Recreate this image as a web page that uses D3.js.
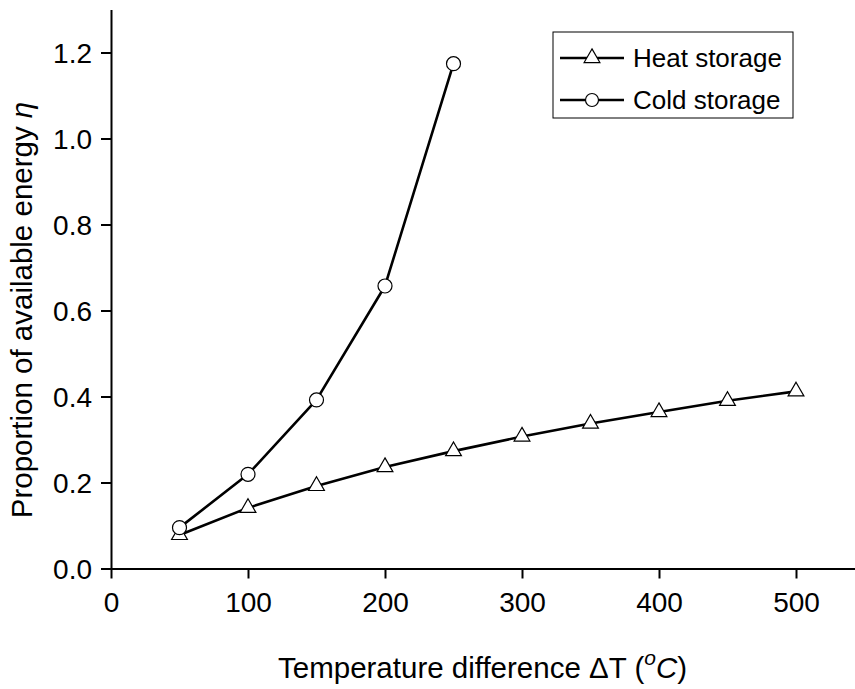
<!DOCTYPE html>
<html>
<head>
<meta charset="utf-8">
<script src="https://cdn.jsdelivr.net/npm/d3@7/dist/d3.min.js"></script>
<style>
  html, body { margin: 0; padding: 0; background: #fff; }
  svg { display: block; }
  text { font-family: "Liberation Sans", Arial, Helvetica, sans-serif; fill: #000; }
</style>
</head>
<body>
<svg id="chart" width="855" height="689"></svg>
<script>
// Temperature difference (°C)
const deltaT = [50, 100, 150, 200, 250, 300, 350, 400, 450, 500];
const deltaTCold = [50, 100, 150, 200, 250];
// Proportion of available energy η
const heatStorage = [0.078, 0.141, 0.192, 0.236, 0.273, 0.307, 0.337, 0.364, 0.390, 0.412];
const coldStorage = [0.095, 0.219, 0.392, 0.657, 1.174];
const seriesNames = ["Heat storage", "Cold storage"];
const xTickValues = [0, 100, 200, 300, 400, 500];
const yTickValues = [0.0, 0.2, 0.4, 0.6, 0.8, 1.0, 1.2];

const svg = d3.select("#chart");

const x = d3.scaleLinear().domain([0, 550]).range([111, 111 + 550 * 1.37]);
const y = d3.scaleLinear().domain([0, 1.3]).range([568.5, 568.5 - 1.3 * 430]);

// X axis
const xAxis = svg.append("g")
  .attr("transform", `translate(0,${y(0)})`)
  .call(d3.axisBottom(x).tickValues(xTickValues).tickSize(10).tickSizeOuter(0).tickFormat(d3.format("d")));
xAxis.select(".domain").attr("stroke", "#000").attr("stroke-width", 2);
xAxis.selectAll(".tick line").attr("stroke", "#000").attr("stroke-width", 2);
xAxis.selectAll(".tick text")
  .attr("y", 43).attr("dy", null)
  .attr("font-size", 28)
  .style("font-family", '"Liberation Sans", Arial, sans-serif');

// Y axis
const yAxis = svg.append("g")
  .attr("transform", `translate(${x(0)},0)`)
  .call(d3.axisLeft(y).tickValues(yTickValues).tickSize(10).tickSizeOuter(0).tickFormat(d3.format(".1f")));
yAxis.select(".domain").attr("stroke", "#000").attr("stroke-width", 2);
yAxis.selectAll(".tick line").attr("stroke", "#000").attr("stroke-width", 2);
yAxis.selectAll(".tick text")
  .attr("x", -19).attr("dy", "0.36em")
  .attr("font-size", 28)
  .style("font-family", '"Liberation Sans", Arial, sans-serif');

// Axis titles
const xTitle = svg.append("text")
  .attr("x", 278).attr("y", 678)
  .attr("font-size", 29.5);
xTitle.append("tspan").text("Temperature difference \u0394T (");
xTitle.append("tspan").attr("font-style", "italic").attr("font-size", 21).attr("dy", -13).text("o");
xTitle.append("tspan").attr("font-style", "italic").attr("dy", 13).text("C");
xTitle.append("tspan").text(")");

const yTitle = svg.append("text")
  .attr("transform", "translate(32,310) rotate(-90)")
  .attr("text-anchor", "middle")
  .attr("font-size", 29.5);
yTitle.append("tspan").text("Proportion of available energy ");
yTitle.append("tspan").attr("font-style", "italic").text("\u03B7");

// Series
const line = d3.line().x(d => x(d[0])).y(d => y(d[1]));
const heatData = deltaT.map((t, i) => [t, heatStorage[i]]);
const coldData = deltaTCold.map((t, i) => [t, coldStorage[i]]);

const triangle = d3.symbol().type(d3.symbolTriangle).size(108);
const circleR = 7;

function drawSeries(data, kind) {
  svg.append("path")
    .datum(data)
    .attr("d", line)
    .attr("fill", "none")
    .attr("stroke", "#000")
    .attr("stroke-width", 2.6)
    .attr("stroke-linejoin", "round");
  const g = svg.append("g");
  if (kind === "triangle") {
    g.selectAll("path").data(data).join("path")
      .attr("d", triangle)
      .attr("transform", d => `translate(${x(d[0])},${y(d[1])})`)
      .attr("fill", "#fff").attr("stroke", "#000").attr("stroke-width", 1.2);
  } else {
    g.selectAll("circle").data(data).join("circle")
      .attr("cx", d => x(d[0])).attr("cy", d => y(d[1])).attr("r", circleR)
      .attr("fill", "#fff").attr("stroke", "#000").attr("stroke-width", 1.2);
  }
}
drawSeries(heatData, "triangle");
drawSeries(coldData, "circle");

// Legend
const legend = svg.append("g");
legend.append("rect")
  .attr("x", 553).attr("y", 32).attr("width", 240).attr("height", 86)
  .attr("fill", "#fff").attr("stroke", "#000").attr("stroke-width", 1);
const legendRows = [
  { name: seriesNames[0], kind: "triangle", cy: 58 },
  { name: seriesNames[1], kind: "circle", cy: 100 }
];
legendRows.forEach(r => {
  legend.append("line")
    .attr("x1", 560).attr("x2", 624).attr("y1", r.cy).attr("y2", r.cy)
    .attr("stroke", "#000").attr("stroke-width", 2.6);
  if (r.kind === "triangle") {
    legend.append("path").attr("d", triangle)
      .attr("transform", `translate(592,${r.cy})`)
      .attr("fill", "#fff").attr("stroke", "#000").attr("stroke-width", 1.2);
  } else {
    legend.append("circle").attr("cx", 592).attr("cy", r.cy).attr("r", 6.5)
      .attr("fill", "#fff").attr("stroke", "#000").attr("stroke-width", 1.2);
  }
  legend.append("text")
    .attr("x", 633).attr("y", r.cy + 9)
    .attr("font-size", 26)
    .text(r.name);
});
</script>
</body>
</html>
